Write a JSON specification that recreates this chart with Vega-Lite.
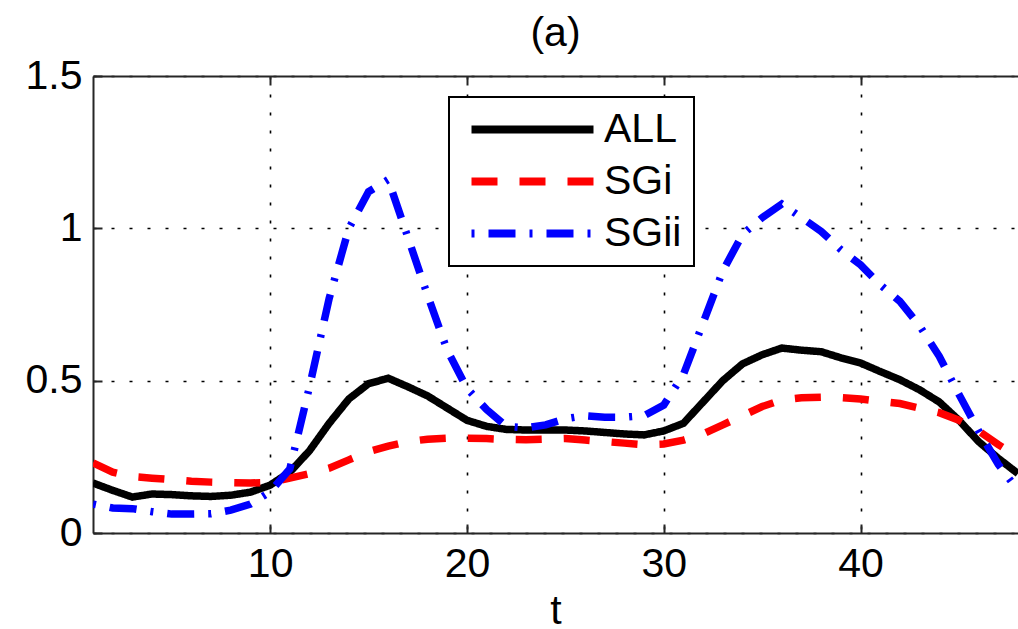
{
  "$schema": "https://vega.github.io/schema/vega-lite/v6.json",
  "width": 925,
  "height": 457,
  "autosize": {"type": "none"},
  "padding": {"left": 93, "top": 76, "right": 0, "bottom": 96},
  "background": "white",
  "title": {"text": "(a)", "font": "Liberation Sans", "fontSize": 41, "fontWeight": "normal", "color": "black", "offset": 0},
  "config": {
    "view": {"stroke": null},
    "axis": {
      "labelFont": "Liberation Sans", "labelFontSize": 41, "labelColor": "black",
      "titleFont": "Liberation Sans", "titleFontSize": 41, "titleFontWeight": "normal", "titleColor": "black",
      "domainColor": "#262626", "domainWidth": 2,
      "tickColor": "#262626", "tickWidth": 2, "tickSize": -9,
      "gridColor": "black", "gridOpacity": 1, "gridWidth": 1.6, "gridDash": [3, 15]
    },
    "legend": {
      "orient": "none", "legendX": 356, "legendY": 21,
      "strokeColor": "black", "fillColor": "white", "strokeWidth": 2, "padding": 12,
      "symbolSize": 400, "symbolStrokeWidth": 8, "symbolOffset": 51,
      "labelFont": "Liberation Sans", "labelFontSize": 41, "labelColor": "black", "labelOffset": 51, "labelLimit": 400,
      "rowPadding": 10
    }
  },
  "data": {"values": [
    {"t": 1, "ALL": 0.164, "SGi": 0.23, "SGii": 0.095},
    {"t": 2, "ALL": 0.14, "SGi": 0.2, "SGii": 0.082},
    {"t": 3, "ALL": 0.118, "SGi": 0.185, "SGii": 0.08},
    {"t": 4, "ALL": 0.128, "SGi": 0.18, "SGii": 0.07},
    {"t": 5, "ALL": 0.126, "SGi": 0.175, "SGii": 0.062},
    {"t": 6, "ALL": 0.122, "SGi": 0.17, "SGii": 0.062},
    {"t": 7, "ALL": 0.12, "SGi": 0.167, "SGii": 0.063},
    {"t": 8, "ALL": 0.124, "SGi": 0.165, "SGii": 0.075},
    {"t": 9, "ALL": 0.134, "SGi": 0.164, "SGii": 0.095},
    {"t": 10, "ALL": 0.157, "SGi": 0.166, "SGii": 0.135},
    {"t": 11, "ALL": 0.2, "SGi": 0.18, "SGii": 0.21},
    {"t": 12, "ALL": 0.27, "SGi": 0.195, "SGii": 0.48},
    {"t": 13, "ALL": 0.36, "SGi": 0.213, "SGii": 0.77},
    {"t": 14, "ALL": 0.44, "SGi": 0.24, "SGii": 1.0},
    {"t": 15, "ALL": 0.49, "SGi": 0.267, "SGii": 1.12},
    {"t": 16, "ALL": 0.508, "SGi": 0.285, "SGii": 1.16},
    {"t": 17, "ALL": 0.48, "SGi": 0.3, "SGii": 0.97},
    {"t": 18, "ALL": 0.45, "SGi": 0.308, "SGii": 0.78},
    {"t": 19, "ALL": 0.41, "SGi": 0.311, "SGii": 0.6},
    {"t": 20, "ALL": 0.37, "SGi": 0.311, "SGii": 0.475},
    {"t": 21, "ALL": 0.35, "SGi": 0.31, "SGii": 0.405},
    {"t": 22, "ALL": 0.34, "SGi": 0.307, "SGii": 0.35},
    {"t": 23, "ALL": 0.338, "SGi": 0.306, "SGii": 0.345},
    {"t": 24, "ALL": 0.338, "SGi": 0.308, "SGii": 0.355},
    {"t": 25, "ALL": 0.338, "SGi": 0.31, "SGii": 0.375},
    {"t": 26, "ALL": 0.335, "SGi": 0.305, "SGii": 0.385},
    {"t": 27, "ALL": 0.33, "SGi": 0.3, "SGii": 0.38},
    {"t": 28, "ALL": 0.325, "SGi": 0.295, "SGii": 0.38},
    {"t": 29, "ALL": 0.322, "SGi": 0.29, "SGii": 0.385},
    {"t": 30, "ALL": 0.335, "SGi": 0.292, "SGii": 0.42},
    {"t": 31, "ALL": 0.36, "SGi": 0.305, "SGii": 0.52},
    {"t": 32, "ALL": 0.43, "SGi": 0.325, "SGii": 0.69},
    {"t": 33, "ALL": 0.5, "SGi": 0.355, "SGii": 0.86},
    {"t": 34, "ALL": 0.555, "SGi": 0.385, "SGii": 0.98},
    {"t": 35, "ALL": 0.585, "SGi": 0.415, "SGii": 1.035},
    {"t": 36, "ALL": 0.607, "SGi": 0.437, "SGii": 1.08},
    {"t": 37, "ALL": 0.6, "SGi": 0.444, "SGii": 1.035},
    {"t": 38, "ALL": 0.595, "SGi": 0.446, "SGii": 0.99},
    {"t": 39, "ALL": 0.575, "SGi": 0.444, "SGii": 0.93},
    {"t": 40, "ALL": 0.558, "SGi": 0.44, "SGii": 0.88},
    {"t": 41, "ALL": 0.53, "SGi": 0.432, "SGii": 0.815},
    {"t": 42, "ALL": 0.503, "SGi": 0.425, "SGii": 0.76},
    {"t": 43, "ALL": 0.47, "SGi": 0.41, "SGii": 0.68},
    {"t": 44, "ALL": 0.43, "SGi": 0.395, "SGii": 0.58},
    {"t": 45, "ALL": 0.37, "SGi": 0.37, "SGii": 0.455},
    {"t": 46, "ALL": 0.3, "SGi": 0.335, "SGii": 0.335},
    {"t": 47, "ALL": 0.245, "SGi": 0.29, "SGii": 0.225},
    {"t": 48, "ALL": 0.195, "SGi": 0.25, "SGii": 0.14}
  ]},
  "transform": [{"fold": ["ALL", "SGi", "SGii"], "as": ["series", "value"]}],
  "resolve": {"axis": {"x": "independent"}},
  "layer": [
    {
      "mark": {"type": "line", "opacity": 0},
      "encoding": {
        "x": {"field": "t", "type": "quantitative", "scale": {"domain": [1, 48], "nice": false, "zero": false},
              "axis": {"orient": "top", "values": [10, 20, 30, 40], "labels": false, "grid": false, "title": null}},
        "y": {"field": "value", "type": "quantitative", "scale": {"domain": [0, 1.5], "nice": false},
              "axis": {"values": [0, 0.5, 1, 1.5], "format": "~g", "grid": true, "title": null, "labelPadding": 20}}
      }
    },
    {
      "mark": {"type": "line", "strokeWidth": 7.5, "clip": true},
      "encoding": {
        "x": {"field": "t", "type": "quantitative", "scale": {"domain": [1, 48], "nice": false, "zero": false},
              "axis": {"orient": "bottom", "values": [10, 20, 30, 40], "grid": true, "title": "t", "labelPadding": 20, "titlePadding": 7}},
        "y": {"field": "value", "type": "quantitative", "scale": {"domain": [0, 1.5], "nice": false},
              "axis": {"values": [0, 0.5, 1, 1.5], "format": "~g", "grid": true, "title": null, "labelPadding": 20}},
        "color": {"field": "series", "type": "nominal",
                  "scale": {"domain": ["ALL", "SGi", "SGii"], "range": ["#000000", "#ff0000", "#0000ff"]},
                  "legend": {"title": null, "symbolType": "M-6.1,0H6.1"}},
        "strokeDash": {"field": "series", "type": "nominal",
                  "scale": {"domain": ["ALL", "SGi", "SGii"], "range": [[1, 0], [26, 22], [3, 14, 27, 14]]},
                  "legend": {"title": null, "symbolType": "M-6.1,0H6.1"}}
      }
    }
  ]
}
